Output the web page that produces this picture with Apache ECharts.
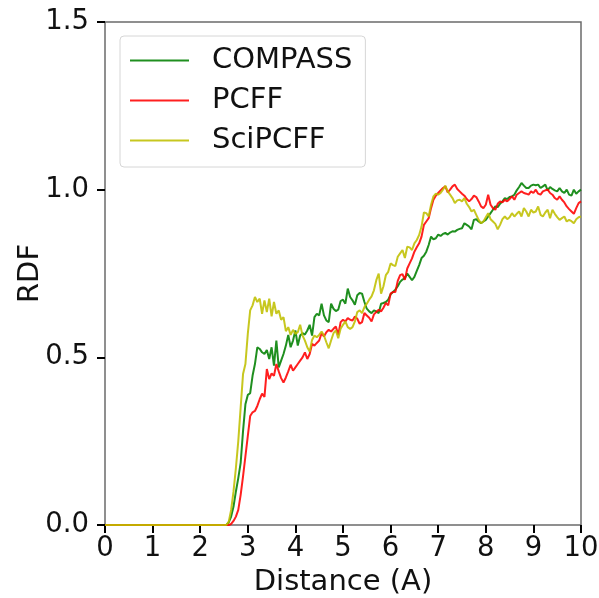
<!DOCTYPE html>
<html>
<head>
<meta charset="utf-8">
<script src="https://cdn.jsdelivr.net/npm/echarts@6/dist/echarts.min.js"></script>
<style>html,body{margin:0;padding:0;background:#fff}#c{width:599px;height:598px}</style>
</head>
<body>
<div id="c"></div>
<script>
// Distance grid of the sampled curves (A): values below start at rStart, one every rStep
const rStart = 2.5;
const rStep = 0.05;
const seriesNames = ['COMPASS', 'PCFF', 'SciPCFF'];
const xTicks = [0,1,2,3,4,5,6,7,8,9,10];
const yTicks = [0.0, 0.5, 1.0, 1.5];

const compass = [
  0, 0, 0.008, 0.025, 0.055, 0.10, 0.14, 0.185, 0.28, 0.36,
  0.388, 0.393, 0.445, 0.48, 0.53, 0.525, 0.515, 0.51, 0.522, 0.495,
  0.53, 0.475, 0.55, 0.47, 0.49, 0.51, 0.535, 0.567, 0.53, 0.55,
  0.58, 0.535, 0.565, 0.572, 0.568, 0.58, 0.597, 0.565, 0.62, 0.63,
  0.625, 0.66, 0.625, 0.61, 0.605, 0.66, 0.645, 0.638, 0.642, 0.668,
  0.672, 0.66, 0.705, 0.68, 0.67, 0.657, 0.685, 0.692, 0.69, 0.665,
  0.645, 0.637, 0.632, 0.64, 0.637, 0.632, 0.66, 0.662, 0.665, 0.672,
  0.688, 0.695, 0.702, 0.712, 0.725, 0.732, 0.736, 0.75, 0.74, 0.73,
  0.74, 0.758, 0.775, 0.796, 0.803, 0.815, 0.835, 0.86, 0.852, 0.855,
  0.866, 0.862, 0.868, 0.871, 0.866, 0.872, 0.876, 0.875, 0.88, 0.883,
  0.885, 0.9, 0.895, 0.89, 0.882, 0.91, 0.912, 0.905, 0.9, 0.905,
  0.91, 0.92, 0.93, 0.94, 0.95, 0.948, 0.958, 0.965, 0.975, 0.972,
  0.978, 0.98, 0.985, 0.998, 1.008, 1.02, 1.012, 1.005, 1.005, 1.012,
  1.015, 1.013, 1.015, 1.005, 1.01, 1.015, 0.998, 1.008, 1.002, 0.998,
  0.995, 1.005, 0.995, 0.99, 1.0, 0.985, 0.982, 1.0, 0.988, 0.995,
  1.0
];
const pcff = [
  0, 0, 0, 0.003, 0.012, 0.025, 0.045, 0.09, 0.145, 0.205,
  0.265, 0.325, 0.336, 0.34, 0.355, 0.375, 0.392, 0.382, 0.465, 0.435,
  0.452, 0.445, 0.48, 0.458, 0.438, 0.425, 0.44, 0.458, 0.478, 0.46,
  0.47, 0.48, 0.49, 0.5, 0.515, 0.495, 0.51, 0.54, 0.535, 0.543,
  0.55, 0.572, 0.562, 0.575, 0.582, 0.577, 0.585, 0.592, 0.567, 0.605,
  0.612, 0.607, 0.617, 0.612, 0.61, 0.622, 0.615, 0.6, 0.605, 0.632,
  0.625, 0.618, 0.607, 0.628, 0.635, 0.642, 0.637, 0.648, 0.662, 0.655,
  0.69, 0.695, 0.695, 0.728, 0.745, 0.748, 0.731, 0.765, 0.78, 0.795,
  0.815, 0.828, 0.84, 0.86, 0.895, 0.905, 0.915, 0.945, 0.97, 0.982,
  0.99, 0.998, 1.005, 1.01, 0.992, 1.0, 1.01, 1.015, 1.002, 0.995,
  0.988, 0.982, 0.972, 0.965, 0.972, 0.982, 0.978, 0.965, 0.95, 0.945,
  0.955, 0.985, 0.955, 0.945, 0.94, 0.958, 0.965, 0.962, 0.97, 0.965,
  0.972, 0.98, 0.97, 0.985, 0.99, 0.995, 0.99, 0.988, 0.985, 0.995,
  0.99, 1.0, 0.988, 0.985, 0.995, 0.998, 1.0, 0.99, 0.985, 0.975,
  0.97, 0.98, 0.97, 0.962, 0.95, 0.942, 0.935, 0.928, 0.945, 0.96,
  0.965
];
const sciPcff = [
  0, 0, 0.01, 0.045, 0.10, 0.17, 0.25, 0.35, 0.45, 0.48,
  0.57, 0.64, 0.655, 0.68, 0.665, 0.675, 0.63, 0.67, 0.635, 0.675,
  0.622, 0.665, 0.63, 0.64, 0.612, 0.62, 0.578, 0.59, 0.567, 0.582,
  0.57, 0.575, 0.597, 0.565, 0.55, 0.53, 0.517, 0.552, 0.565, 0.56,
  0.567, 0.577, 0.565, 0.545, 0.527, 0.55, 0.572, 0.58, 0.557, 0.585,
  0.597, 0.607, 0.59, 0.585, 0.59, 0.607, 0.635, 0.64, 0.632, 0.65,
  0.66, 0.672, 0.682, 0.70, 0.73, 0.75, 0.69, 0.712, 0.745, 0.755,
  0.78, 0.775, 0.772, 0.80, 0.81, 0.82, 0.796, 0.83, 0.828, 0.82,
  0.84, 0.85, 0.865, 0.89, 0.932, 0.93, 0.92, 0.955, 0.98, 0.988,
  0.985, 0.99, 1.0, 1.012, 0.995, 0.985, 0.975, 0.96, 0.968, 0.97,
  0.965, 0.975, 0.958, 0.948, 0.935, 0.94, 0.925, 0.91, 0.9, 0.905,
  0.918, 0.93, 0.912, 0.905, 0.898, 0.882, 0.895, 0.912, 0.92, 0.912,
  0.918, 0.93, 0.92, 0.928, 0.935, 0.92, 0.945, 0.935, 0.92, 0.94,
  0.932, 0.935, 0.95, 0.925, 0.92, 0.932, 0.94, 0.915, 0.94, 0.928,
  0.918, 0.91, 0.915, 0.92, 0.905, 0.91, 0.906, 0.9, 0.912, 0.918,
  0.92
];

function toPairs(vals) {
  const out = [[0, 0]];
  for (let i = 0; i < vals.length; i++) {
    out.push([+(rStart + i * rStep).toFixed(2), vals[i]]);
  }
  return out;
}

const FONT = 'DejaVu Sans';
const colors = ['rgba(0,128,0,0.88)', 'rgba(255,0,0,0.88)', 'rgba(191,191,0,0.88)'];
const allVals = [compass, pcff, sciPcff];

const chart = echarts.init(document.getElementById('c'), null, {renderer: 'canvas'});
chart.setOption({
  animation: false,
  backgroundColor: '#fff',
  grid: {
    left: 105, right: 18, top: 22, bottom: 73,
    outerBoundsMode: 'none', containLabel: false,
    show: true, borderColor: '#6b6b6b', borderWidth: 1.5, backgroundColor: 'transparent'
  },
  legend: {
    orient: 'vertical',
    left: 120, top: 36,
    icon: 'rect', itemWidth: 59, itemHeight: 2,
    itemGap: 11,
    padding: [10, 13, 12, 10],
    backgroundColor: '#fff',
    borderColor: '#d6d6d6', borderWidth: 1, borderRadius: 4,
    textStyle: {fontFamily: FONT, fontSize: 29, color: '#111', padding: [0, 0, 0, 18]},
    data: seriesNames
  },
  xAxis: {
    type: 'value', min: xTicks[0], max: xTicks[xTicks.length - 1], interval: 1,
    name: 'Distance (A)', nameLocation: 'middle', nameGap: 43, nameMoveOverlap: false,
    nameTextStyle: {fontFamily: FONT, fontSize: 29, color: '#111'},
    axisLine: {show: false},
    axisTick: {show: true, inside: false, length: 8, lineStyle: {color: '#000', width: 2}},
    axisLabel: {fontFamily: FONT, fontSize: 27.5, color: '#111', margin: 10},
    splitLine: {show: false}
  },
  yAxis: {
    type: 'value', min: yTicks[0], max: yTicks[yTicks.length - 1], interval: 0.5,
    name: 'RDF', nameLocation: 'middle', nameGap: 60, nameRotate: 90, nameMoveOverlap: false,
    nameTextStyle: {fontFamily: FONT, fontSize: 29, color: '#111'},
    axisLine: {show: false},
    axisTick: {show: true, inside: false, length: 8, lineStyle: {color: '#000', width: 2}},
    axisLabel: {fontFamily: FONT, fontSize: 27.5, color: '#111', margin: 16,
      formatter: v => v.toFixed(1)},
    splitLine: {show: false}
  },
  series: seriesNames.map((n, i) => ({
    name: n, type: 'line', data: toPairs(allVals[i]),
    showSymbol: false, symbol: 'none',
    itemStyle: {color: colors[i]},
    lineStyle: {color: colors[i], width: 2},
    clip: true
  }))
});
</script>
</body>
</html>
